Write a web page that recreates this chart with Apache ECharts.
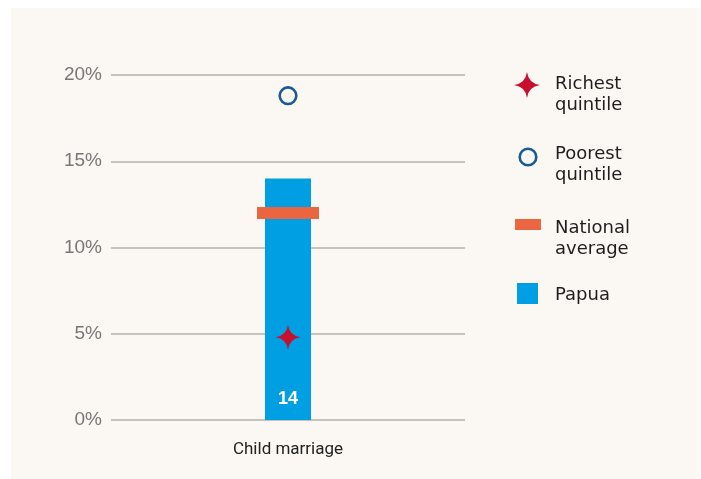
<!DOCTYPE html>
<html>
<head>
<meta charset="utf-8">
<script src="https://cdn.jsdelivr.net/npm/echarts@6/dist/echarts.min.js"></script>
<style>
  html, body { margin: 0; padding: 0; background: #ffffff; }
  #chart { width: 701px; height: 479px; }
</style>
</head>
<body>
<div id="chart"></div>
<script>
// data
const categories = ["Child marriage"];
const papua = [14];
const nationalAverage = [12];
const poorestQuintile = [18.8];
const richestQuintile = [4.8];
const yTicks = [0, 5, 10, 15, 20];
const legendLabels = ["Richest\nquintile", "Poorest\nquintile", "National\naverage", "Papua"];

const colors = { papua: "#009fe3", national: "#ec6541", poorest: "#185a96", richest: "#c8102e", panel: "#fbf8f3" };
const starPath = "M0,-10 Q1.2,-1.2 10,0 Q1.2,1.2 0,10 Q-1.2,1.2 -10,0 Q-1.2,-1.2 0,-10Z";
const legendFont = "18px 'DejaVu Sans'";

// four-pointed star for the legend icon
echarts.graphic.registerShape("star4", echarts.graphic.extendShape({
  shape: { cx: 0, cy: 0, r: 10 },
  buildPath: function(ctx, s) {
    const k = s.r * 0.12;
    ctx.moveTo(s.cx, s.cy - s.r);
    ctx.quadraticCurveTo(s.cx + k, s.cy - k, s.cx + s.r, s.cy);
    ctx.quadraticCurveTo(s.cx + k, s.cy + k, s.cx, s.cy + s.r);
    ctx.quadraticCurveTo(s.cx - k, s.cy + k, s.cx - s.r, s.cy);
    ctx.quadraticCurveTo(s.cx - k, s.cy - k, s.cx, s.cy - s.r);
    ctx.closePath();
  }
}));

// hand-built legend: icon on the first text line, text at x=555
const legendTops = [74, 144, 218, 285];
const legendGraphics = [
  { type: "star4", shape: { cx: 527, cy: 85, r: 13 }, style: { fill: colors.richest } },
  { type: "circle", shape: { cx: 528, cy: 157, r: 8.3 }, style: { fill: colors.panel, stroke: colors.poorest, lineWidth: 2.6 } },
  { type: "rect", shape: { x: 515, y: 219, width: 26, height: 11 }, style: { fill: colors.national } },
  { type: "rect", shape: { x: 517, y: 283, width: 21, height: 21 }, style: { fill: colors.papua } }
];
legendLabels.forEach((t, i) => {
  legendGraphics.push({
    type: "text",
    x: 555,
    y: legendTops[i],
    style: { text: t, font: legendFont, fill: "#1e1e1e", lineHeight: 21, verticalAlign: "top" }
  });
});

let myChart = echarts.init(document.getElementById("chart"));
myChart.setOption({
  animation: false,
  graphic: [{
    type: "rect",
    z: -10,
    shape: { x: 11, y: 8, width: 689, height: 471 },
    style: { fill: colors.panel }
  }].concat(legendGraphics),
  grid: { left: 111, right: 236, top: 75, bottom: 59 },
  xAxis: {
    type: "category",
    data: categories,
    axisLine: { show: false },
    axisTick: { show: false },
    axisLabel: { fontFamily: "Roboto", fontSize: 17, color: "#222", margin: 21 }
  },
  yAxis: {
    type: "value",
    min: yTicks[0],
    max: yTicks[yTicks.length - 1],
    interval: 5,
    axisLine: { show: false },
    axisTick: { show: false },
    splitLine: { lineStyle: { color: "#b5b1ac", width: 1.6 } },
    axisLabel: { formatter: "{value}%", fontFamily: "Liberation Sans", fontSize: 19, color: "#777", margin: 9, padding: [3, 0, 0, 0] }
  },
  series: [
    {
      name: "Papua",
      type: "bar",
      data: papua,
      barWidth: 46,
      itemStyle: { color: colors.papua },
      label: {
        show: true,
        position: "insideBottom",
        distance: 12,
        color: "#fff",
        fontFamily: "Liberation Sans",
        fontWeight: "bold",
        fontSize: 18
      },
      z: 1
    },
    {
      name: "National average",
      type: "scatter",
      data: nationalAverage,
      symbol: "rect",
      symbolSize: [62, 12],
      itemStyle: { color: colors.national, opacity: 1 },
      z: 3
    },
    {
      name: "Poorest quintile",
      type: "scatter",
      data: poorestQuintile,
      symbol: "circle",
      symbolSize: 16.6,
      itemStyle: { color: colors.panel, borderColor: colors.poorest, borderWidth: 2.6, opacity: 1 },
      z: 3
    },
    {
      name: "Richest quintile",
      type: "scatter",
      data: richestQuintile,
      symbol: "path://" + starPath,
      symbolSize: 25,
      itemStyle: { color: colors.richest, opacity: 1 },
      z: 4
    }
  ]
});
window.addEventListener("resize", function() {
  myChart.resize();
});
</script>
</body>
</html>
